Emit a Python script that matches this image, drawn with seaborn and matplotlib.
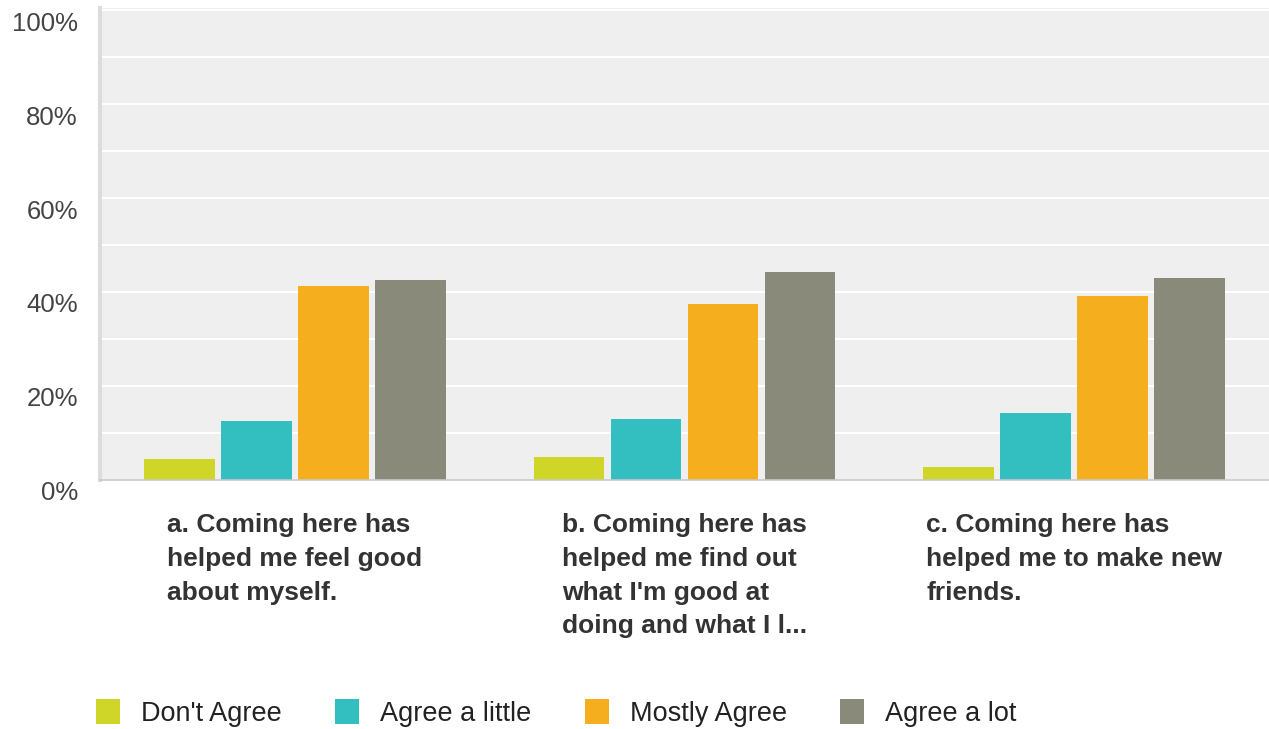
import matplotlib
matplotlib.use("Agg")
import matplotlib.pyplot as plt
import matplotlib.transforms as mtransforms
from matplotlib.ticker import MultipleLocator, FuncFormatter, FixedLocator
from matplotlib.patches import Patch
import seaborn as sns
import pandas as pd

categories = [
    "a. Coming here has\nhelped me feel good\nabout myself.",
    "b. Coming here has\nhelped me find out\nwhat I'm good at\ndoing and what I l...",
    "c. Coming here has\nhelped me to make new\nfriends.",
]
responses = ["Don't Agree", "Agree a little", "Mostly Agree", "Agree a lot"]
dont_agree = [4.4, 4.9, 2.7]
agree_little = [12.5, 13.0, 14.2]
mostly_agree = [41.2, 37.4, 39.1]
agree_lot = [42.5, 44.2, 42.9]
colors = ["#CFD627", "#33BEC0", "#F5AF1E", "#8A8A7A"]
y_ticks = [0, 20, 40, 60, 80, 100]

series = [dont_agree, agree_little, mostly_agree, agree_lot]
rows = []
for resp, vals in zip(responses, series):
    for cat, v in zip(categories, vals):
        rows.append({"question": cat, "response": resp, "pct": v})
df = pd.DataFrame(rows)

plt.rcParams["font.family"] = ["Liberation Sans", "DejaVu Sans"]

W, H = 1269, 729
fig = plt.figure(figsize=(W / 100, H / 100), dpi=100)
ax = fig.add_axes([100 / W, (H - 479.5) / H, 1169 / W, (479.5 - 8) / H])
ax.set_facecolor("#EFEFEF")

sns.barplot(data=df, x="question", y="pct", hue="response", order=categories,
            hue_order=responses, palette=colors, saturation=1, width=0.79, gap=0.08,
            linewidth=0, edgecolor="none", legend=False, ax=ax, errorbar=None)

ax.set_xlim(-0.5, 2.5)
ax.set_ylim(0, 100.5)
ax.set_xlabel("")
ax.set_ylabel("")

ax.yaxis.set_major_locator(FixedLocator(y_ticks))
ax.yaxis.set_minor_locator(MultipleLocator(10))
ax.yaxis.set_major_formatter(FuncFormatter(lambda v, p: f"{v:.0f}%"))
ax.set_axisbelow(True)
ax.yaxis.grid(True, which="both", color="white", linewidth=1.5)
ax.xaxis.grid(False)

for s in ["top", "right"]:
    ax.spines[s].set_visible(False)
ax.spines["left"].set_color("#DCDCDC")
ax.spines["left"].set_linewidth(3)
ax.spines["bottom"].set_color("#C8C8C8")
ax.spines["bottom"].set_linewidth(1.2)

ax.tick_params(axis="y", which="both", length=0, pad=16, labelsize=18.5, labelcolor="#444444")
ax.tick_params(axis="x", length=0, pad=24)

offset = mtransforms.ScaledTranslation(0, -0.11, fig.dpi_scale_trans)
for lab in ax.get_yticklabels():
    lab.set_transform(lab.get_transform() + offset)

ax.set_xticks(range(len(categories)))
ax.set_xticklabels(categories, fontsize=19, fontweight="bold", color="#333333",
                   linespacing=1.52, va="top", ha="center")
for t in ax.get_xticklabels():
    t.set_multialignment("left")

handles = [Patch(facecolor=c, edgecolor="none") for c in colors]
fig.legend(handles, responses, loc="center left", bbox_to_anchor=(96 / W, 1 - 713 / H),
           ncol=4, frameon=False, fontsize=19.5, handlelength=0.89, handleheight=1.0,
           handletextpad=0.78, columnspacing=1.96, borderaxespad=0, borderpad=0,
           labelcolor="#222222")

fig.savefig("out.png", dpi=100, facecolor="white")
